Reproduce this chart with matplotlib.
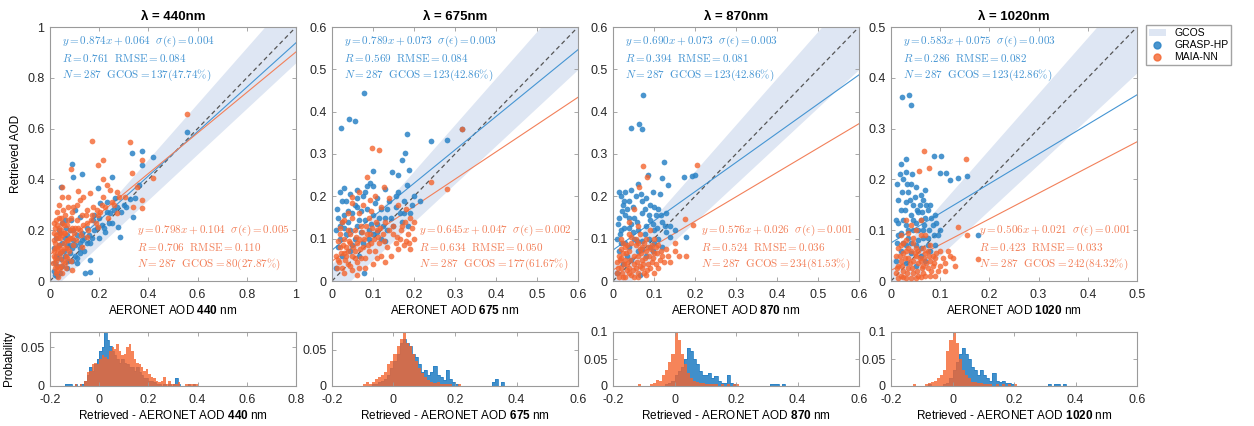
import matplotlib.pyplot as plt
import numpy as np
from matplotlib.patches import Patch
from matplotlib.lines import Line2D

plt.rcParams['font.family'] = ['Liberation Sans', 'DejaVu Sans']
plt.rcParams['mathtext.fontset'] = 'custom'
plt.rcParams['mathtext.rm'] = 'Liberation Sans'
plt.rcParams['mathtext.bf'] = 'Liberation Sans:bold'
plt.rcParams['mathtext.it'] = 'Liberation Sans:italic'

# ---- data ----
wavelengths = [440, 675, 870, 1020]
axis_max = [1.0, 0.6, 0.6, 0.5]
n_points = 287

grasp_slope = [0.874, 0.789, 0.690, 0.583]
grasp_icpt = [0.064, 0.073, 0.073, 0.075]
grasp_sigma = [0.004, 0.003, 0.003, 0.003]
grasp_r = [0.761, 0.569, 0.394, 0.286]
grasp_rmse = [0.084, 0.084, 0.081, 0.082]
grasp_gcos = [137, 123, 123, 123]
grasp_gcos_pct = [47.74, 42.86, 42.86, 42.86]

maia_slope = [0.798, 0.645, 0.576, 0.506]
maia_icpt = [0.104, 0.047, 0.026, 0.021]
maia_sigma = [0.005, 0.002, 0.001, 0.001]
maia_r = [0.706, 0.634, 0.524, 0.423]
maia_rmse = [0.110, 0.050, 0.036, 0.033]
maia_gcos = [80, 177, 234, 242]
maia_gcos_pct = [27.87, 61.67, 81.53, 84.32]

# scatter points (AERONET, retrieved)
grasp_440 = np.array([
    [0.556, 0.585], [0.373, 0.513], [0.332, 0.503], [0.417, 0.487], [0.373, 0.457],
    [0.088, 0.460], [0.095, 0.410], [0.129, 0.421], [0.250, 0.410], [0.196, 0.365],
    [0.360, 0.378], [0.346, 0.325], [0.339, 0.253], [0.325, 0.324], [0.264, 0.325],
    [0.271, 0.293], [0.230, 0.312], [0.244, 0.266], [0.278, 0.214], [0.285, 0.175],
    [0.224, 0.194], [0.176, 0.240], [0.203, 0.306], [0.122, 0.253], [0.081, 0.200],
    [0.163, 0.148], [0.163, 0.083], [0.142, 0.030], [0.163, 0.034], [0.122, 0.109],
    [0.095, 0.161], [0.108, 0.070], [0.068, 0.050], [0.041, 0.030], [0.020, 0.024],
    [0.030, 0.060], [0.045, 0.085], [0.055, 0.120], [0.035, 0.140], [0.025, 0.100],
    [0.060, 0.170], [0.070, 0.140], [0.050, 0.230], [0.040, 0.190], [0.080, 0.110],
    [0.090, 0.130], [0.110, 0.180], [0.130, 0.190], [0.150, 0.210], [0.180, 0.200],
    [0.200, 0.250], [0.210, 0.220], [0.140, 0.120], [0.120, 0.150], [0.100, 0.100],
    [0.075, 0.080], [0.015, 0.040], [0.030, 0.020], [0.050, 0.060], [0.065, 0.210],
    [0.045, 0.370], [0.085, 0.240], [0.100, 0.280], [0.170, 0.170], [0.240, 0.230],
    [0.020, 0.070], [0.030, 0.090], [0.040, 0.110], [0.050, 0.150], [0.060, 0.100],
    [0.070, 0.180], [0.080, 0.140], [0.090, 0.080], [0.100, 0.140], [0.110, 0.090],
    [0.120, 0.130], [0.130, 0.160], [0.140, 0.170], [0.150, 0.150], [0.160, 0.180],
    [0.190, 0.210], [0.200, 0.170], [0.220, 0.210], [0.230, 0.270], [0.250, 0.230],
    [0.260, 0.280], [0.290, 0.270], [0.300, 0.300], [0.310, 0.290], [0.035, 0.200],
    [0.015, 0.130], [0.025, 0.170], [0.060, 0.240], [0.095, 0.200], [0.180, 0.260]])
maia_440 = np.array([
    [0.556, 0.657], [0.170, 0.552], [0.325, 0.546], [0.373, 0.476], [0.085, 0.440],
    [0.217, 0.476], [0.196, 0.457], [0.214, 0.400], [0.332, 0.424], [0.420, 0.404],
    [0.050, 0.369], [0.230, 0.378], [0.244, 0.358], [0.115, 0.356], [0.135, 0.332],
    [0.163, 0.345], [0.352, 0.371], [0.373, 0.319], [0.373, 0.286], [0.339, 0.293],
    [0.305, 0.329], [0.271, 0.352], [0.217, 0.332], [0.271, 0.266], [0.196, 0.214],
    [0.149, 0.280], [0.095, 0.293], [0.074, 0.332], [0.054, 0.280], [0.068, 0.220],
    [0.149, 0.175], [0.129, 0.135], [0.088, 0.043], [0.034, 0.017], [0.020, 0.050],
    [0.025, 0.080], [0.030, 0.110], [0.035, 0.140], [0.040, 0.170], [0.045, 0.200],
    [0.050, 0.230], [0.020, 0.130], [0.025, 0.180], [0.030, 0.220], [0.035, 0.250],
    [0.040, 0.090], [0.045, 0.060], [0.050, 0.120], [0.055, 0.150], [0.060, 0.190],
    [0.065, 0.100], [0.070, 0.130], [0.075, 0.160], [0.080, 0.200], [0.085, 0.250],
    [0.090, 0.170], [0.100, 0.210], [0.110, 0.240], [0.120, 0.200], [0.130, 0.260],
    [0.150, 0.230], [0.170, 0.260], [0.190, 0.280], [0.210, 0.300], [0.250, 0.310],
    [0.015, 0.100], [0.020, 0.210], [0.030, 0.040], [0.040, 0.130], [0.060, 0.070],
    [0.015, 0.160], [0.050, 0.030], [0.035, 0.190], [0.025, 0.240], [0.012, 0.070],
    [0.018, 0.120], [0.022, 0.150], [0.028, 0.060], [0.032, 0.170], [0.038, 0.210],
    [0.042, 0.110], [0.048, 0.180], [0.052, 0.080], [0.058, 0.220], [0.062, 0.130],
    [0.068, 0.160], [0.072, 0.240], [0.078, 0.120], [0.082, 0.170], [0.088, 0.210],
    [0.092, 0.140], [0.098, 0.190], [0.105, 0.160], [0.115, 0.210], [0.125, 0.180],
    [0.135, 0.220], [0.145, 0.260], [0.155, 0.200], [0.165, 0.240], [0.175, 0.290],
    [0.185, 0.230], [0.195, 0.260], [0.205, 0.270], [0.225, 0.290], [0.235, 0.250],
    [0.260, 0.300], [0.280, 0.330], [0.015, 0.190], [0.028, 0.270], [0.045, 0.250],
    [0.060, 0.260], [0.075, 0.290], [0.090, 0.270], [0.110, 0.300], [0.120, 0.320],
    [0.050, 0.330], [0.035, 0.300], [0.020, 0.090], [0.040, 0.050], [0.030, 0.130],
    [0.055, 0.190], [0.065, 0.050], [0.070, 0.090], [0.085, 0.080], [0.018, 0.230],
    [0.025, 0.030]])

grasp_675 = np.array([
    [0.078, 0.445], [0.021, 0.361], [0.042, 0.382], [0.056, 0.378], [0.316, 0.359],
    [0.242, 0.331], [0.281, 0.333], [0.184, 0.347], [0.179, 0.303], [0.171, 0.286],
    [0.187, 0.262], [0.101, 0.260], [0.146, 0.258], [0.160, 0.250], [0.183, 0.227],
    [0.130, 0.217], [0.093, 0.231], [0.020, 0.210], [0.030, 0.220], [0.044, 0.205],
    [0.025, 0.190], [0.060, 0.195], [0.080, 0.210], [0.085, 0.225], [0.110, 0.195],
    [0.140, 0.190], [0.155, 0.175], [0.175, 0.160], [0.120, 0.170], [0.100, 0.155],
    [0.070, 0.165], [0.050, 0.160], [0.030, 0.155], [0.015, 0.150], [0.020, 0.130],
    [0.040, 0.140], [0.060, 0.130], [0.080, 0.145], [0.090, 0.120], [0.110, 0.135],
    [0.130, 0.150], [0.150, 0.130], [0.170, 0.140], [0.190, 0.160], [0.035, 0.110],
    [0.055, 0.100], [0.075, 0.090], [0.100, 0.110], [0.120, 0.100], [0.015, 0.080],
    [0.025, 0.060], [0.045, 0.070], [0.065, 0.060], [0.078, 0.020], [0.010, 0.030],
    [0.200, 0.200], [0.215, 0.190], [0.060, 0.175], [0.010, 0.120], [0.135, 0.120],
    [0.012, 0.170], [0.025, 0.140], [0.035, 0.190], [0.045, 0.120], [0.055, 0.180],
    [0.065, 0.145], [0.075, 0.200], [0.085, 0.170], [0.095, 0.135], [0.105, 0.185],
    [0.115, 0.150], [0.125, 0.130], [0.135, 0.170], [0.145, 0.150], [0.155, 0.200],
    [0.165, 0.160], [0.175, 0.190], [0.185, 0.130], [0.195, 0.180], [0.030, 0.125],
    [0.050, 0.085], [0.070, 0.115], [0.090, 0.100], [0.110, 0.115], [0.130, 0.095],
    [0.020, 0.100], [0.040, 0.165], [0.060, 0.215], [0.100, 0.225], [0.160, 0.210]])
maia_675 = np.array([
    [0.316, 0.359], [0.097, 0.313], [0.115, 0.309], [0.242, 0.233], [0.281, 0.217],
    [0.127, 0.221], [0.048, 0.199], [0.093, 0.191], [0.065, 0.210], [0.085, 0.245],
    [0.140, 0.195], [0.160, 0.180], [0.120, 0.175], [0.180, 0.170], [0.190, 0.150],
    [0.170, 0.130], [0.150, 0.110], [0.130, 0.140], [0.110, 0.120], [0.090, 0.150],
    [0.070, 0.130], [0.050, 0.150], [0.040, 0.120], [0.030, 0.100], [0.020, 0.080],
    [0.015, 0.050], [0.025, 0.030], [0.035, 0.060], [0.045, 0.090], [0.055, 0.070],
    [0.065, 0.100], [0.075, 0.080], [0.085, 0.110], [0.095, 0.090], [0.105, 0.070],
    [0.115, 0.090], [0.125, 0.110], [0.135, 0.080], [0.145, 0.060], [0.155, 0.090],
    [0.165, 0.100], [0.175, 0.085], [0.185, 0.110], [0.195, 0.125], [0.180, 0.095],
    [0.200, 0.140], [0.030, 0.020], [0.040, 0.040], [0.050, 0.025], [0.060, 0.045],
    [0.070, 0.055], [0.080, 0.030], [0.020, 0.110], [0.010, 0.060], [0.025, 0.140],
    [0.060, 0.015], [0.100, 0.040], [0.120, 0.060], [0.090, 0.070], [0.045, 0.110],
    [0.035, 0.080], [0.055, 0.120], [0.012, 0.030], [0.018, 0.045], [0.022, 0.065],
    [0.028, 0.085], [0.032, 0.050], [0.038, 0.070], [0.042, 0.095], [0.048, 0.060],
    [0.052, 0.080], [0.058, 0.105], [0.062, 0.090], [0.068, 0.075], [0.072, 0.115],
    [0.078, 0.100], [0.082, 0.130], [0.088, 0.085], [0.092, 0.110], [0.098, 0.125],
    [0.102, 0.100], [0.108, 0.140], [0.112, 0.105], [0.118, 0.125], [0.128, 0.095],
    [0.138, 0.120], [0.148, 0.130], [0.158, 0.105], [0.168, 0.120], [0.178, 0.140],
    [0.188, 0.090], [0.015, 0.095], [0.020, 0.125], [0.030, 0.145], [0.040, 0.160],
    [0.050, 0.185], [0.065, 0.160], [0.075, 0.180], [0.095, 0.165], [0.105, 0.200],
    [0.030, 0.065], [0.045, 0.035], [0.055, 0.055], [0.065, 0.030], [0.080, 0.055],
    [0.110, 0.055], [0.130, 0.045], [0.160, 0.075], [0.200, 0.100], [0.190, 0.075]])

grasp_870 = np.array([
    [0.074, 0.439], [0.043, 0.361], [0.064, 0.372], [0.071, 0.358], [0.124, 0.282],
    [0.200, 0.250], [0.192, 0.248], [0.172, 0.246], [0.086, 0.250], [0.119, 0.243],
    [0.135, 0.227], [0.098, 0.211], [0.178, 0.105], [0.066, 0.014], [0.020, 0.200],
    [0.030, 0.210], [0.040, 0.190], [0.025, 0.180], [0.055, 0.200], [0.070, 0.190],
    [0.090, 0.180], [0.110, 0.170], [0.130, 0.160], [0.015, 0.150], [0.030, 0.155],
    [0.050, 0.150], [0.070, 0.160], [0.090, 0.145], [0.120, 0.140], [0.140, 0.130],
    [0.020, 0.120], [0.040, 0.125], [0.060, 0.120], [0.080, 0.130], [0.100, 0.120],
    [0.110, 0.100], [0.130, 0.115], [0.150, 0.120], [0.010, 0.100], [0.030, 0.090],
    [0.050, 0.100], [0.070, 0.095], [0.090, 0.080], [0.015, 0.070], [0.035, 0.060],
    [0.060, 0.070], [0.080, 0.060], [0.025, 0.040], [0.045, 0.050], [0.010, 0.020],
    [0.100, 0.090], [0.060, 0.230], [0.035, 0.170], [0.105, 0.155], [0.045, 0.135],
    [0.012, 0.135], [0.022, 0.165], [0.028, 0.190], [0.038, 0.150], [0.048, 0.175],
    [0.058, 0.140], [0.068, 0.205], [0.078, 0.170], [0.088, 0.155], [0.098, 0.135],
    [0.108, 0.125], [0.118, 0.155], [0.128, 0.130], [0.138, 0.105], [0.018, 0.110],
    [0.028, 0.125], [0.048, 0.115], [0.058, 0.095], [0.078, 0.110], [0.088, 0.100],
    [0.098, 0.070], [0.120, 0.080], [0.020, 0.090], [0.040, 0.080], [0.070, 0.075],
    [0.015, 0.210], [0.045, 0.215], [0.080, 0.195], [0.115, 0.205], [0.100, 0.175]])
maia_870 = np.array([
    [0.074, 0.272], [0.204, 0.274], [0.082, 0.245], [0.064, 0.223], [0.176, 0.146],
    [0.194, 0.132], [0.178, 0.059], [0.050, 0.170], [0.090, 0.120], [0.040, 0.110],
    [0.020, 0.100], [0.060, 0.090], [0.110, 0.085], [0.130, 0.075], [0.150, 0.070],
    [0.120, 0.060], [0.100, 0.065], [0.080, 0.070], [0.070, 0.050], [0.060, 0.060],
    [0.050, 0.040], [0.040, 0.070], [0.030, 0.050], [0.020, 0.030], [0.015, 0.060],
    [0.010, 0.020], [0.025, 0.010], [0.035, 0.025], [0.045, 0.015], [0.055, 0.030],
    [0.065, 0.035], [0.075, 0.020], [0.085, 0.040], [0.095, 0.045], [0.105, 0.040],
    [0.030, 0.080], [0.045, 0.090], [0.055, 0.100], [0.070, 0.080], [0.020, 0.075],
    [0.010, 0.045], [0.035, 0.040], [0.065, 0.110], [0.040, 0.020], [0.090, 0.030],
    [0.115, 0.050], [0.140, 0.045], [0.025, 0.090], [0.080, 0.100], [0.100, 0.100],
    [0.012, 0.030], [0.018, 0.050], [0.022, 0.020], [0.028, 0.040], [0.032, 0.065],
    [0.038, 0.030], [0.042, 0.050], [0.048, 0.025], [0.052, 0.060], [0.058, 0.045],
    [0.062, 0.020], [0.068, 0.065], [0.072, 0.040], [0.078, 0.055], [0.082, 0.025],
    [0.088, 0.060], [0.092, 0.075], [0.098, 0.055], [0.108, 0.065], [0.118, 0.070],
    [0.125, 0.045], [0.135, 0.060], [0.015, 0.010], [0.025, 0.065], [0.035, 0.085],
    [0.045, 0.105], [0.055, 0.085], [0.065, 0.075], [0.075, 0.090], [0.085, 0.080],
    [0.095, 0.085], [0.105, 0.080], [0.020, 0.055], [0.030, 0.010], [0.050, 0.010],
    [0.060, 0.010], [0.070, 0.030], [0.080, 0.015], [0.100, 0.020], [0.110, 0.030],
    [0.060, 0.130], [0.040, 0.140], [0.160, 0.060], [0.150, 0.090]])

grasp_1020 = np.array([
    [0.023, 0.363], [0.037, 0.366], [0.041, 0.346], [0.088, 0.246], [0.102, 0.246],
    [0.100, 0.213], [0.112, 0.213], [0.120, 0.199], [0.137, 0.202], [0.155, 0.207],
    [0.177, 0.091], [0.020, 0.230], [0.030, 0.215], [0.025, 0.200], [0.040, 0.190],
    [0.035, 0.175], [0.050, 0.185], [0.060, 0.170], [0.015, 0.160], [0.030, 0.155],
    [0.045, 0.150], [0.065, 0.160], [0.080, 0.150], [0.020, 0.140], [0.040, 0.130],
    [0.055, 0.135], [0.070, 0.125], [0.090, 0.130], [0.010, 0.120], [0.030, 0.110],
    [0.050, 0.115], [0.065, 0.100], [0.085, 0.110], [0.100, 0.100], [0.015, 0.090],
    [0.035, 0.085], [0.055, 0.080], [0.075, 0.085], [0.090, 0.070], [0.020, 0.060],
    [0.040, 0.055], [0.060, 0.050], [0.080, 0.060], [0.010, 0.040], [0.030, 0.035],
    [0.050, 0.030], [0.070, 0.040], [0.045, 0.100], [0.025, 0.075], [0.060, 0.120],
    [0.075, 0.140], [0.012, 0.190], [0.018, 0.210], [0.022, 0.175], [0.028, 0.140],
    [0.032, 0.190], [0.038, 0.160], [0.042, 0.210], [0.048, 0.165], [0.052, 0.140],
    [0.058, 0.150], [0.062, 0.135], [0.068, 0.110], [0.072, 0.150], [0.078, 0.100],
    [0.082, 0.125], [0.088, 0.090], [0.092, 0.115], [0.015, 0.115], [0.025, 0.120],
    [0.035, 0.100], [0.045, 0.120], [0.055, 0.100], [0.065, 0.085], [0.075, 0.070],
    [0.012, 0.075], [0.020, 0.095], [0.030, 0.070], [0.040, 0.075], [0.050, 0.070],
    [0.060, 0.065], [0.095, 0.090], [0.070, 0.180], [0.030, 0.240]])
maia_1020 = np.array([
    [0.067, 0.256], [0.153, 0.240], [0.077, 0.223], [0.057, 0.217], [0.155, 0.091],
    [0.137, 0.107], [0.177, 0.043], [0.040, 0.110], [0.060, 0.090], [0.030, 0.080],
    [0.080, 0.070], [0.100, 0.060], [0.120, 0.050], [0.110, 0.035], [0.090, 0.045],
    [0.070, 0.055], [0.050, 0.065], [0.020, 0.070], [0.010, 0.050], [0.025, 0.055],
    [0.035, 0.045], [0.045, 0.040], [0.055, 0.035], [0.065, 0.030], [0.075, 0.025],
    [0.085, 0.030], [0.095, 0.020], [0.015, 0.030], [0.025, 0.020], [0.035, 0.025],
    [0.045, 0.015], [0.055, 0.010], [0.065, 0.015], [0.020, 0.010], [0.010, 0.015],
    [0.030, 0.005], [0.040, 0.060], [0.050, 0.050], [0.060, 0.040], [0.030, 0.060],
    [0.020, 0.040], [0.070, 0.010], [0.080, 0.040], [0.100, 0.030], [0.130, 0.030],
    [0.045, 0.075], [0.035, 0.095], [0.012, 0.025], [0.018, 0.050], [0.022, 0.030],
    [0.028, 0.045], [0.032, 0.015], [0.038, 0.035], [0.042, 0.025], [0.048, 0.055],
    [0.052, 0.020], [0.058, 0.045], [0.062, 0.025], [0.068, 0.045], [0.072, 0.035],
    [0.078, 0.050], [0.082, 0.020], [0.088, 0.035], [0.092, 0.055], [0.015, 0.065],
    [0.025, 0.075], [0.035, 0.065], [0.045, 0.085], [0.055, 0.060], [0.065, 0.065],
    [0.075, 0.060], [0.085, 0.050], [0.105, 0.045], [0.115, 0.060], [0.125, 0.045],
    [0.015, 0.005], [0.025, 0.008], [0.040, 0.005], [0.050, 0.005], [0.060, 0.008],
    [0.080, 0.010], [0.090, 0.010], [0.110, 0.020], [0.020, 0.090], [0.050, 0.100],
    [0.070, 0.090], [0.060, 0.120], [0.030, 0.120]])

# difference histograms: probability per 0.01 bin, bins start at -0.14
hist_start = -0.14
hist_width = 0.01
hist_bins = 54
grasp_hist_440 = [0.003, 0.003, 0.003, 0, 0.003, 0, 0.003, 0.003, 0.007, 0.014,
                  0.024, 0.02, 0.028, 0.035, 0.045, 0.05, 0.07, 0.06, 0.052, 0.045,
                  0.04, 0.035, 0.03, 0.035, 0.03, 0.028, 0.025, 0.024, 0.02, 0.024,
                  0.018, 0.014, 0.01, 0.01, 0.007, 0.007, 0.005, 0.003, 0.003, 0,
                  0.003, 0, 0.003, 0, 0.003, 0.01, 0.003, 0, 0, 0,
                  0.003, 0, 0.003, 0]
maia_hist_440 = [0, 0, 0, 0, 0.003, 0, 0.003, 0, 0.007, 0.018,
                 0.02, 0.028, 0.03, 0.028, 0.035, 0.04, 0.038, 0.035, 0.045, 0.05,
                 0.048, 0.055, 0.045, 0.04, 0.042, 0.05, 0.055, 0.045, 0.035, 0.03,
                 0.028, 0.025, 0.02, 0.022, 0.015, 0.012, 0.01, 0.007, 0.005, 0.007,
                 0.012, 0.003, 0.007, 0.003, 0.003, 0.003, 0.005, 0, 0, 0.003,
                 0.003, 0.003, 0.003, 0.003]
grasp_hist_675 = [0, 0, 0, 0, 0, 0, 0, 0.003, 0.003, 0.005,
                  0.007, 0.01, 0.015, 0.025, 0.035, 0.045, 0.06, 0.065, 0.06, 0.055,
                  0.045, 0.04, 0.03, 0.02, 0.022, 0.015, 0.02, 0.028, 0.015, 0.012,
                  0.008, 0.022, 0.01, 0.005, 0.003, 0, 0, 0, 0, 0,
                  0, 0, 0, 0, 0, 0, 0.005, 0.01, 0, 0.005]
maia_hist_675 = [0, 0, 0, 0, 0.003, 0.005, 0.003, 0.005, 0.01, 0.012,
                 0.015, 0.02, 0.03, 0.035, 0.045, 0.055, 0.065, 0.075, 0.06, 0.055,
                 0.045, 0.035, 0.025, 0.018, 0.012, 0.008, 0.006, 0.004, 0.005, 0.003,
                 0.003, 0.003, 0.003, 0, 0, 0.003]
grasp_hist_870 = [0, 0, 0, 0, 0, 0, 0, 0, 0, 0,
                  0, 0.003, 0.005, 0.01, 0.02, 0.028, 0.035, 0.05, 0.07, 0.065,
                  0.05, 0.04, 0.028, 0.02, 0.02, 0.025, 0.015, 0.018, 0.01, 0.006,
                  0.005, 0.02, 0.005, 0.003, 0, 0, 0, 0, 0, 0,
                  0, 0, 0, 0, 0, 0.003, 0.003, 0.003, 0, 0.003]
maia_hist_870 = [0, 0, 0.003, 0, 0, 0, 0.003, 0.005, 0.012, 0.01,
                 0.02, 0.03, 0.045, 0.06, 0.1, 0.085, 0.06, 0.04, 0.025, 0.015,
                 0.01, 0.008, 0.005, 0.005, 0.004, 0.003, 0.003, 0.003, 0, 0.003,
                 0, 0.003, 0, 0.003, 0.003]
grasp_hist_1020 = [0, 0, 0, 0, 0, 0, 0.003, 0, 0, 0,
                   0, 0.003, 0.005, 0.015, 0.03, 0.045, 0.06, 0.07, 0.06, 0.05,
                   0.035, 0.03, 0.02, 0.03, 0.02, 0.015, 0.01, 0.025, 0.01, 0.008,
                   0.01, 0.005, 0.005, 0.003, 0, 0, 0, 0, 0, 0,
                   0, 0, 0, 0, 0, 0.003, 0, 0.003, 0.003, 0,
                   0.003]
maia_hist_1020 = [0, 0.003, 0, 0, 0, 0.003, 0.005, 0.008, 0.01, 0.015,
                  0.02, 0.03, 0.065, 0.085, 0.1, 0.08, 0.05, 0.03, 0.02, 0.015,
                  0.008, 0.007, 0.006, 0.005, 0.003, 0.003, 0.003, 0, 0.003, 0,
                  0.003, 0, 0.003, 0, 0.003]

hist_xmax = [0.8, 0.6, 0.6, 0.6]
hist_ymax = [0.07, 0.075, 0.1, 0.1]
hist_yticks = [[0, 0.05], [0, 0.05], [0, 0.05, 0.1], [0, 0.05, 0.1]]

grasp_pts = [grasp_440, grasp_675, grasp_870, grasp_1020]
maia_pts = [maia_440, maia_675, maia_870, maia_1020]
grasp_hists = [grasp_hist_440, grasp_hist_675, grasp_hist_870, grasp_hist_1020]
maia_hists = [maia_hist_440, maia_hist_675, maia_hist_870, maia_hist_1020]

# ---- style ----
c_blue = '#2b83c6'
c_orange = '#f4652f'
c_blue_txt = '#4595d3'
c_orange_txt = '#f2805a'
c_band = '#dee6f3'
c_spine = '#9a9a9a'

fig = plt.figure(figsize=(12.54, 4.26), dpi=100)
W, H = 1254, 426
lefts = [50, 332, 613, 891]
pw = 246


def style_axes(ax):
    for s in ax.spines.values():
        s.set_color(c_spine)
        s.set_linewidth(0.8)
    ax.tick_params(direction='in', top=True, right=True, length=3, width=0.6,
                   color=c_spine, labelsize=9, labelcolor='#262626')
    ax.tick_params(axis='x', pad=6)
    ax.tick_params(axis='y', pad=4)


def fmt(v):
    return '0' if v == 0 else ('%g' % v)


for i, wl in enumerate(wavelengths):
    m = axis_max[i]
    ax = fig.add_axes([lefts[i] / W, 1 - 281 / H, pw / W, 254 / H])
    xx = np.linspace(0, m, 50)
    ax.fill_between(xx, xx - (0.04 + 0.1 * xx), xx + (0.04 + 0.1 * xx),
                    color=c_band, lw=0, zorder=0)
    ax.plot([0, m], [0, m], color='#555555', lw=0.9, dashes=(3.5, 2.5), zorder=1)
    ax.plot(xx, grasp_slope[i] * xx + grasp_icpt[i], color=c_blue_txt, lw=0.8, zorder=1)
    ax.plot(xx, maia_slope[i] * xx + maia_icpt[i], color=c_orange_txt, lw=0.8, zorder=1)
    ax.scatter(grasp_pts[i][:, 0], grasp_pts[i][:, 1], s=17, color=c_blue,
               alpha=0.85, linewidths=0, zorder=2)
    ax.scatter(maia_pts[i][:, 0], maia_pts[i][:, 1], s=17, color=c_orange,
               alpha=0.8, linewidths=0, zorder=3)
    ax.set_xlim(0, m)
    ax.set_ylim(0, m)
    step = 0.2 if m == 1.0 else 0.1
    ticks = np.round(np.arange(0, m + 1e-9, step), 2)
    ax.set_xticks(ticks)
    ax.set_yticks(ticks)
    ax.set_xticklabels([fmt(t) for t in ticks])
    ax.set_yticklabels([fmt(t) for t in ticks])
    style_axes(ax)
    ax.set_title('\u03bb = %dnm' % wl, fontsize=9.5, fontweight='bold', pad=5)
    ax.set_xlabel(r'AERONET AOD $\mathbf{%d}$ nm' % wl, fontsize=8.5, labelpad=2)
    if i == 0:
        ax.set_ylabel('Retrieved AOD', fontsize=8.5)

    blue_txt = (r'$y = %.3fx + %.3f\ \ \sigma(\epsilon) = %.3f$' % (grasp_slope[i], grasp_icpt[i], grasp_sigma[i]) + '\n'
                + r'$R = %.3f\ \ \mathrm{RMSE} = %.3f$' % (grasp_r[i], grasp_rmse[i]) + '\n'
                + r'$N = %d\ \ \mathrm{GCOS} = %d(%.2f\%%)$' % (n_points, grasp_gcos[i], grasp_gcos_pct[i]))
    ax.text(0.05, 0.975, blue_txt, transform=ax.transAxes, ha='left', va='top',
            fontsize=8, color=c_blue_txt, math_fontfamily='cm', linespacing=1.35, zorder=5)
    orange_txt = (r'$y = %.3fx + %.3f\ \ \sigma(\epsilon) = %.3f$' % (maia_slope[i], maia_icpt[i], maia_sigma[i]) + '\n'
                  + r'$R = %.3f\ \ \mathrm{RMSE} = %.3f$' % (maia_r[i], maia_rmse[i]) + '\n'
                  + r'$N = %d\ \ \mathrm{GCOS} = %d(%.2f\%%)$' % (n_points, maia_gcos[i], maia_gcos_pct[i]))
    ax.text(0.975, 0.035, orange_txt, transform=ax.transAxes, ha='right', va='bottom',
            multialignment='left', fontsize=8, color=c_orange_txt, math_fontfamily='cm',
            linespacing=1.35, zorder=5)

    # histogram of differences
    hx = fig.add_axes([lefts[i] / W, 1 - 386 / H, pw / W, 54 / H])
    edges = hist_start + hist_width * np.arange(hist_bins + 1)
    hb = np.zeros(hist_bins)
    hb[:len(grasp_hists[i])] = grasp_hists[i]
    ho = np.zeros(hist_bins)
    ho[:len(maia_hists[i])] = maia_hists[i]
    hx.stairs(hb, edges, fill=True, color=c_blue, alpha=0.9, lw=0)
    hx.stairs(hb, edges, color=c_blue, lw=0.6)
    hx.stairs(ho, edges, fill=True, color=c_orange, alpha=0.8, lw=0)
    hx.set_xlim(-0.2, hist_xmax[i])
    hx.set_ylim(0, hist_ymax[i])
    xt = np.round(np.arange(-0.2, hist_xmax[i] + 1e-9, 0.2), 2)
    hx.set_xticks(xt)
    hx.set_xticklabels([fmt(t) for t in xt])
    hx.set_yticks(hist_yticks[i])
    hx.set_yticklabels([fmt(t) for t in hist_yticks[i]])
    style_axes(hx)
    hx.set_xlabel(r'Retrieved - AERONET AOD $\mathbf{%d}$ nm' % wl, fontsize=8.5, labelpad=2)
    if i == 0:
        hx.set_ylabel('Probability', fontsize=8.5)

handles = [Patch(facecolor=c_band, edgecolor='none'),
           Line2D([], [], marker='o', ls='none', color=c_blue, markersize=5, alpha=0.85),
           Line2D([], [], marker='o', ls='none', color=c_orange, markersize=5, alpha=0.8)]
fig.legend(handles, ['GCOS', 'GRASP-HP', 'MAIA-NN'], loc='upper left',
           bbox_to_anchor=(1146 / W, 1 - 25 / H), fontsize=7.5, frameon=True,
           fancybox=False, edgecolor='#8c8c8c', borderpad=0.3, labelspacing=0.2,
           handlelength=1.6, handletextpad=0.8, borderaxespad=0)

fig.savefig('out.png', dpi=100)
